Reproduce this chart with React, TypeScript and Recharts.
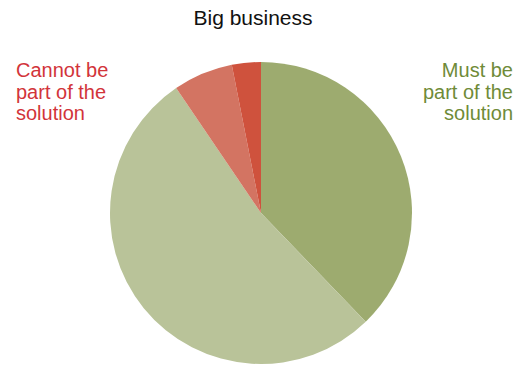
import { PieChart, Pie, Cell } from "recharts";

const slices = ["Must be part of the solution", "Neutral", "Lean against", "Cannot be part of the solution"];
const shares = [37.8, 52.7, 6.4, 3.1];
const colors = ["#9DAB6F", "#B9C399", "#D37462", "#CF523D"];

const title = "Big business";
const leftLabel = ["Cannot be", "part of the", "solution"];
const rightLabel = ["Must be", "part of the", "solution"];

const data = slices.map((name, i) => ({ name, value: shares[i] }));

const font = "'Liberation Sans', Arial, Helvetica, sans-serif";

const App = () => {
	return (
		<div style={{ position: "absolute", left: 0, top: 0 }}>
			<PieChart width={517} height={366} margin={{ top: 0, right: 0, bottom: 0, left: 0 }}>
				<text x={253} y={25} textAnchor="middle" fontFamily={font} fontSize={21} fill="#111">
					{title}
				</text>
				{leftLabel.map((line, i) => (
					<text key={"l" + i} x={16} y={77 + i * 21.5} fontFamily={font} fontSize={20} fill="#D2343A">
						{line}
					</text>
				))}
				{rightLabel.map((line, i) => (
					<text key={"r" + i} x={513} y={77 + i * 21.5} textAnchor="end" fontFamily={font} fontSize={20} fill="#6F8B38">
						{line}
					</text>
				))}
				<Pie
					data={data}
					dataKey="value"
					nameKey="name"
					cx={261}
					cy={213}
					outerRadius={151}
					startAngle={90}
					endAngle={-270}
					stroke="none"
					isAnimationActive={false}>
					{data.map((d, i) => (
						<Cell key={d.name} fill={colors[i]} />
					))}
				</Pie>
			</PieChart>
		</div>
	);
};

export default App;
